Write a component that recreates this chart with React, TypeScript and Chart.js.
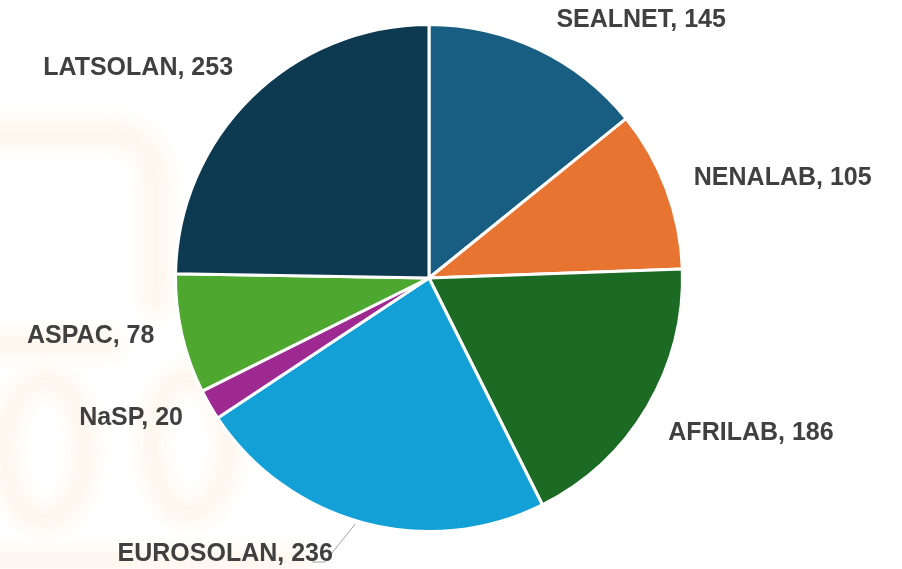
import React, { useEffect, useRef } from "react";
import { Chart, registerables } from "chart.js";

Chart.register(...registerables);

const categories = ["SEALNET", "NENALAB", "AFRILAB", "EUROSOLAN", "NaSP", "ASPAC", "LATSOLAN"];
const counts = [145, 105, 186, 236, 20, 78, 253];
const sliceColors = ["#175E82", "#E87432", "#1B6B25", "#12A0D7", "#9E2A91", "#4EA72E", "#0E3A51"];

// label placement tweaks (pixels) applied on top of geometry-derived anchors
const labelNudge: [number, number][] = [
  [7, 1], [3, 5], [-1, 1], [-24, -5], [-4, -11], [-2, -15], [0, -3.5],
];

const watermarkPlugin = {
  id: "watermark",
  beforeDraw(chart: any) {
    const ctx = chart.ctx;
    const off = 3000;
    ctx.save();
    // draw shapes far off-canvas, only their blurred shadow lands on the canvas
    ctx.translate(-off, 0);
    ctx.shadowOffsetX = off;
    ctx.shadowOffsetY = 0;
    ctx.shadowBlur = 14;
    ctx.shadowColor = "rgba(246, 190, 120, 0.13)";
    ctx.strokeStyle = "#000";
    ctx.lineCap = "round";
    ctx.lineWidth = 30;
    ctx.beginPath();
    ctx.moveTo(-20, 134);
    ctx.lineTo(115, 134);
    ctx.quadraticCurveTo(155, 138, 156, 185);
    ctx.lineTo(156, 300);
    ctx.stroke();
    ctx.lineWidth = 26;
    ctx.beginPath();
    ctx.moveTo(-20, 345);
    ctx.lineTo(110, 345);
    ctx.stroke();
    ctx.beginPath();
    ctx.ellipse(45, 450, 40, 70, 0, 0, Math.PI * 2);
    ctx.stroke();
    ctx.beginPath();
    ctx.ellipse(190, 445, 38, 68, 0, 0, Math.PI * 2);
    ctx.stroke();
    ctx.lineWidth = 24;
    ctx.beginPath();
    ctx.moveTo(-20, 560);
    ctx.lineTo(300, 560);
    ctx.stroke();
    ctx.restore();
  },
};

const labelPlugin = {
  id: "sliceLabels",
  afterDatasetsDraw(chart: any) {
    const ctx = chart.ctx;
    const meta = chart.getDatasetMeta(0);
    const data = chart.data.datasets[0].data;
    const capH = 18;
    ctx.save();
    ctx.font = "bold 25px 'Liberation Sans', Arial, sans-serif";
    ctx.textBaseline = "alphabetic";
    ctx.textAlign = "left";
    meta.data.forEach((arc: any, i: number) => {
      const p = arc.getProps(["x", "y", "startAngle", "endAngle", "outerRadius"], true);
      const mid = (p.startAngle + p.endAngle) / 2;
      const dx = Math.cos(mid);
      const dy = Math.sin(mid);
      const d = p.outerRadius + 26;
      const px = p.x + dx * d;
      const py = p.y + dy * d;
      const text = `${chart.data.labels[i]}, ${data[i]}`;
      const w = ctx.measureText(text).width;
      let left = dx >= 0 ? px : px - w;
      let top = dy >= 0 ? py : py - capH;
      const [nx, ny] = labelNudge[i] || [0, 0];
      left += nx;
      top += ny;
      const bottom = top + capH;
      if (Math.hypot(nx, ny) > 20) {
        const ex = p.x + dx * (p.outerRadius + 1);
        const ey = p.y + dy * (p.outerRadius + 1);
        ctx.strokeStyle = "#A6A6A6";
        ctx.lineWidth = 1;
        ctx.beginPath();
        ctx.moveTo(ex - 8, ey);
        ctx.lineTo(left + w - 8, bottom + 1);
        ctx.lineTo(left + w - 21, bottom + 1);
        ctx.stroke();
      }
      ctx.fillStyle = "#404040";
      ctx.fillText(text, left, bottom);
    });
    ctx.restore();
  },
};

export default function App() {
  const canvasRef = useRef<HTMLCanvasElement | null>(null);

  useEffect(() => {
    document.body.style.margin = "0";
    const canvas = canvasRef.current;
    if (!canvas) return;
    const chart = new Chart(canvas, {
      type: "pie",
      data: {
        labels: categories,
        datasets: [
          {
            data: counts,
            backgroundColor: sliceColors,
            borderColor: "#FFFFFF",
            borderWidth: 3,
          },
        ],
      },
      options: {
        responsive: false,
        animation: false,
        layout: { padding: { left: 0, right: 44, top: 23, bottom: 36 } },
        plugins: {
          legend: { display: false },
          tooltip: { enabled: false },
        },
      },
      plugins: [watermarkPlugin, labelPlugin],
    });
    return () => chart.destroy();
  }, []);

  return (
    <div style={{ width: 902, height: 569, background: "#FFFFFF" }}>
      <canvas ref={canvasRef} width={902} height={569} style={{ display: "block" }} />
    </div>
  );
}
